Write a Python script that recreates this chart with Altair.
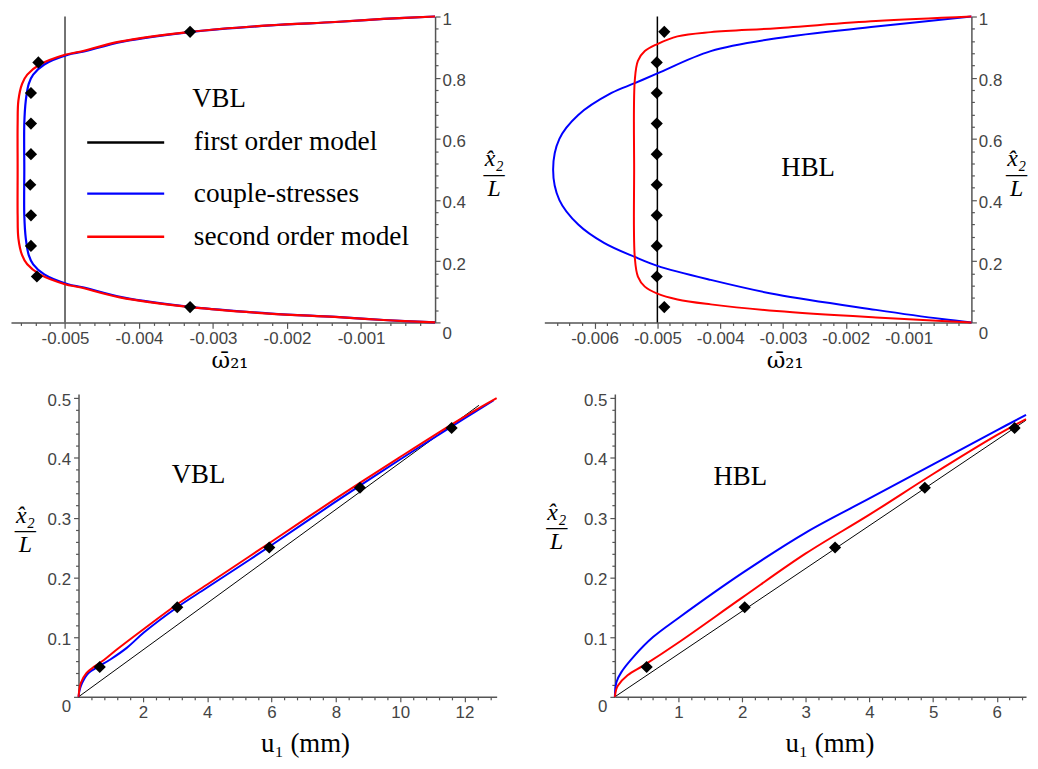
import altair as alt
import pandas as pd

# ---------------- data ----------------
# Panel A : VBL, micro-rotation omega_21 vs x2/L
a_y = [0, 0.008, 0.018, 0.029, 0.05, 0.082, 0.115, 0.125, 0.157, 0.19, 0.22, 0.275, 0.35,
       0.5, 0.65, 0.725, 0.78, 0.81, 0.843, 0.875, 0.885, 0.918, 0.95, 0.971, 0.982, 0.992, 1]
a_red = [0, -0.0007, -0.00136, -0.00225, -0.0033, -0.00426, -0.0048, -0.005, -0.00534, -0.00551,
         -0.00558, -0.00563, -0.00564, -0.00564, -0.00564, -0.00563, -0.00558, -0.00551, -0.00534,
         -0.005, -0.0048, -0.00426, -0.0033, -0.00225, -0.00136, -0.0007, 0]
a_blue = [0, -0.00069, -0.00134, -0.00222, -0.00328, -0.00422, -0.00476, -0.00496, -0.00528, -0.00543,
          -0.00549, -0.00553, -0.00555, -0.00555, -0.00555, -0.00553, -0.00549, -0.00543, -0.00528,
          -0.00496, -0.00476, -0.00422, -0.00328, -0.00222, -0.00134, -0.00069, 0]
a_first_x = [-0.005, -0.005]
a_first_y = [0, 1]
a_pts_y = [0.05, 0.15, 0.25, 0.35, 0.45, 0.55, 0.65, 0.75, 0.85, 0.95]
a_pts_x = [-0.00331, -0.00538, -0.00546, -0.00546, -0.00547, -0.00546, -0.00546, -0.00546, -0.00536, -0.00331]

# Panel B : HBL, micro-rotation
b_blue_y = [0, 0.011, 0.041, 0.091, 0.139, 0.185, 0.214, 0.26, 0.32, 0.4, 0.5,
            0.6, 0.678, 0.75, 0.782, 0.814, 0.887, 0.929, 0.967, 1]
b_blue_x = [0, -0.00047, -0.00152, -0.0031, -0.00415, -0.005, -0.00536, -0.00585, -0.00626, -0.00656, -0.00666,
            -0.00656, -0.00626, -0.00573, -0.00536, -0.005, -0.00415, -0.0031, -0.00152, 0]
b_red_y = [0, 0.005, 0.016, 0.037, 0.059, 0.075, 0.094, 0.117, 0.15, 0.214, 0.5,
           0.79, 0.855, 0.887, 0.91, 0.935, 0.949, 0.962, 0.985, 1]
b_red_x = [0, -0.00047, -0.00152, -0.0031, -0.00415, -0.00468, -0.005, -0.0052, -0.00531, -0.00536, -0.00537,
           -0.00536, -0.00531, -0.0052, -0.005, -0.00468, -0.00415, -0.0031, -0.00152, 0]
b_first_x = [-0.005, -0.005]
b_first_y = [0, 1]
b_pts_y = [0.05, 0.15, 0.25, 0.35, 0.45, 0.55, 0.65, 0.75, 0.85, 0.95]
b_pts_x = [-0.00489, -0.00501, -0.00501, -0.00501, -0.00501, -0.00501, -0.00501, -0.00501, -0.00501, -0.00489]

# Panel C : VBL, displacement u1 (mm) vs x2/L
c_first_u = [0, 12.45]
c_first_y = [0, 0.488]
c_red_u = [0, 0.02, 0.07, 0.25, 0.5, 0.8, 1.21, 2.04, 3.07, 4.0, 5.95, 7.95, 9.96, 12.0, 13.0]
c_red_y = [0, 0.01, 0.023, 0.04, 0.051, 0.062, 0.08, 0.114, 0.155, 0.188, 0.258, 0.33, 0.4, 0.469, 0.5]
c_blue_u = [0, 0.03, 0.11, 0.31, 0.6, 1.0, 1.5, 2.04, 3.07, 4.0, 5.95, 7.95, 9.96, 12.0, 12.9]
c_blue_y = [0, 0.01, 0.023, 0.04, 0.05, 0.063, 0.082, 0.108, 0.15, 0.183, 0.252, 0.325, 0.396, 0.466, 0.496]
c_pts_u = [0.66, 3.07, 5.93, 8.75, 11.6]
c_pts_y = [0.05, 0.15, 0.25, 0.35, 0.45]

# Panel D : HBL, displacement
d_first_u = [0, 6.46]
d_first_y = [0, 0.463]
d_red_u = [0, 0.02, 0.05, 0.2, 0.46, 1.0, 2.0, 3.0, 4.0, 5.0, 6.0, 6.46]
d_red_y = [0, 0.012, 0.019, 0.036, 0.053, 0.091, 0.166, 0.24, 0.305, 0.373, 0.438, 0.465]
d_blue_u = [0, 0.026, 0.1, 0.31, 0.6, 1.0, 2.0, 3.0, 4.0, 5.0, 6.0, 6.46]
d_blue_y = [0, 0.025, 0.041, 0.069, 0.1, 0.132, 0.207, 0.275, 0.332, 0.389, 0.446, 0.472]
d_pts_u = [0.5, 2.04, 3.46, 4.87, 6.28]
d_pts_y = [0.05, 0.15, 0.25, 0.35, 0.45]

legend_labels = ["first order model", "couple-stresses", "second order model"]
legend_colors = ["black", "#0000ff", "#ff0000"]

# ---------------- styling ----------------
BLUE = "#0000ff"
RED = "#ff0000"
SERIF = "Liberation Serif"
FRAC = ["x\u0302\u2082", "\u2014", "L"]
OMEGA = "\u03c9\u0304\u2082\u2081"

LBL = dict(labelFont="Liberation Sans", labelFontSize=17, labelColor="#444",
           domainColor="#555", domainWidth=1.5, tickColor="#555", tickWidth=1.2, grid=False)
# the "0" tick label sits just below the horizontal axis, as in the original
ZERO_BELOW = {"condition": {"test": "datum.value == 0", "value": "top"}, "value": "middle"}


def minor(lo, hi, step, majors):
    n = int(round((hi - lo) / step))
    vals = [round(lo + k * step, 6) for k in range(n + 1)]
    return [v for v in vals if all(abs(v - m) > step / 10 for m in majors)]


def frac_title(tx, ty):
    return dict(title=FRAC, titleAngle=0, titleFont=SERIF, titleFontStyle="italic",
                titleFontWeight="normal", titleFontSize=24, titleLineHeight=15,
                titleColor="black", titleX=tx, titleY=ty, titleAlign="center",
                titleBaseline="alphabetic")


def xy(xs, ys):
    return pd.DataFrame({"x": xs, "y": ys, "i": list(range(len(xs)))})


def line(xs, ys, color, width, xsc, ysc, xaxis=None, yaxis=None, interp="catmull-rom"):
    return alt.Chart(xy(xs, ys)).mark_line(color=color, strokeWidth=width, interpolate=interp).encode(
        x=alt.X("x:Q", scale=xsc, axis=xaxis),
        y=alt.Y("y:Q", scale=ysc, axis=yaxis),
        order="i:Q")


def diamonds(xs, ys, xsc, ysc):
    return alt.Chart(xy(xs, ys)).mark_point(shape="diamond", filled=True, color="black",
                                            opacity=1, size=150).encode(
        x=alt.X("x:Q", scale=xsc, axis=None), y=alt.Y("y:Q", scale=ysc, axis=None))


def label(text, x, y, xsc, ysc):
    df = pd.DataFrame({"x": [x], "y": [y], "t": [text]})
    return alt.Chart(df).mark_text(font=SERIF, fontSize=27, color="black").encode(
        x=alt.X("x:Q", scale=xsc, axis=None), y=alt.Y("y:Q", scale=ysc, axis=None), text="t:N")


# ---------------- top panels (omega) ----------------
y_top = alt.Scale(domain=[0, 1], nice=False, zero=False)
y_top_major = [0, 0.2, 0.4, 0.6, 0.8, 1.0]
y_top_minor = minor(0, 1, 0.04, y_top_major)


def top_axes(xmaj, xmin, title_x, frac_x):
    xa = alt.Axis(orient="bottom", values=xmaj, labelExpr="'-' + format(abs(datum.value), '.3f')",
                  tickSize=6, labelPadding=2, title=OMEGA, titleFont="DejaVu Serif", titleFontSize=23,
                  titleFontWeight="normal", titleColor="black", titleX=title_x, titleY=45,
                  titleAlign="center", titleBaseline="alphabetic", **LBL)
    xm = alt.Axis(orient="bottom", values=xmin, labels=False, tickSize=3, domain=False, title=None,
                  tickColor="#555", tickWidth=1.2, grid=False)
    ya = alt.Axis(orient="right", values=y_top_major, format="~g", tickSize=5, labelPadding=2,
                  labelOffset=3, labelBaseline=ZERO_BELOW,
                  **frac_title(frac_x, 150), **LBL)
    ym = alt.Axis(orient="right", values=y_top_minor, labels=False, tickSize=3, domain=False,
                  title=None, tickColor="#555", tickWidth=1.2, grid=False)
    return xa, xm, ya, ym


# Panel A
xA = alt.Scale(domain=[-0.00573, 0], nice=False, zero=False)
amaj = [-0.005, -0.004, -0.003, -0.002, -0.001]
xa, xm, ya, ym = top_axes(amaj, minor(-0.0056, -0.0002, 0.0002, amaj), 220, 59)
leg_df = pd.DataFrame({"lab": legend_labels, "col": legend_colors,
                       "y": [0.588, 0.421, 0.28], "x1": [-0.0047] * 3, "x2": [-0.00366] * 3,
                       "xt": [-0.00326] * 3})
leg_color = alt.Color("lab:N", scale=alt.Scale(domain=legend_labels, range=legend_colors), legend=None)
leg_lines = alt.Chart(leg_df).mark_rule(strokeWidth=2.5).encode(
    x=alt.X("x1:Q", scale=xA, axis=None), x2="x2:Q", y=alt.Y("y:Q", scale=y_top, axis=None), color=leg_color)
leg_text = alt.Chart(leg_df).mark_text(font=SERIF, fontSize=27.5, align="left", baseline="middle",
                                       color="black").encode(
    x=alt.X("xt:Q", scale=xA, axis=None), y=alt.Y("y:Q", scale=y_top, axis=None), text="lab:N")

panelA = alt.layer(
    line(a_first_x, a_first_y, "#444", 1.5, xA, y_top, xm, ym, interp="linear"),
    line(a_blue, a_y, BLUE, 2.2, xA, y_top, xa, ya),
    line(a_red, a_y, RED, 2.2, xA, y_top),
    diamonds(a_pts_x, a_pts_y, xA, y_top),
    label("VBL", -0.00292, 0.73, xA, y_top),
    leg_lines, leg_text,
).resolve_axis(x="independent", y="independent").properties(width=427, height=308)

# Panel B
xB = alt.Scale(domain=[-0.0068, 0], nice=False, zero=False)
bmaj = [-0.006, -0.005, -0.004, -0.003, -0.002, -0.001]
xa, xm, ya, ym = top_axes(bmaj, minor(-0.0066, -0.0002, 0.0002, bmaj), 242, 45)
panelB = alt.layer(
    line(b_first_x, b_first_y, "black", 1.5, xB, y_top, xm, ym, interp="linear"),
    line(b_blue_x, b_blue_y, BLUE, 2.0, xB, y_top, xa, ya),
    line(b_red_x, b_red_y, RED, 2.0, xB, y_top),
    diamonds(b_pts_x, b_pts_y, xB, y_top),
    label("HBL", -0.0026, 0.503, xB, y_top),
).resolve_axis(x="independent", y="independent").properties(width=430, height=308)

# ---------------- bottom panels (displacement) ----------------
y_bot = alt.Scale(domain=[0, 0.507], nice=False, zero=False)
y_bot_major = [0, 0.1, 0.2, 0.3, 0.4, 0.5]
y_bot_minor = minor(0, 0.5, 0.02, y_bot_major)
U_TITLE = "u\u2081  (mm)"


def bot_axes(xmaj, xmin, title_x, frac_x, frac_y):
    xa = alt.Axis(orient="bottom", values=xmaj, format="~g", tickSize=5, labelPadding=3,
                  title=U_TITLE, titleFont=SERIF, titleFontSize=27, titleFontWeight="normal",
                  titleColor="black", titleX=title_x, titleY=55, titleAlign="center",
                  titleBaseline="alphabetic", **LBL)
    xm = alt.Axis(orient="bottom", values=xmin, labels=False, tickSize=3, domain=False, title=None,
                  tickColor="#555", tickWidth=1.2, grid=False)
    ya = alt.Axis(orient="left", values=y_bot_major, format="~g", tickSize=5, labelPadding=3,
                  labelOffset=2, labelBaseline=ZERO_BELOW, **frac_title(frac_x, frac_y), **LBL)
    ym = alt.Axis(orient="left", values=y_bot_minor, labels=False, tickSize=3, domain=False,
                  title=None, tickColor="#555", tickWidth=1.2, grid=False)
    return xa, xm, ya, ym


# Panel C
xC = alt.Scale(domain=[0, 13], nice=False, zero=False)
cmaj = [2, 4, 6, 8, 10, 12]
xa, xm, ya, ym = bot_axes(cmaj, minor(0.4, 12.8, 0.4, cmaj), 228, -54, 129)
panelC = alt.layer(
    line(c_first_u, c_first_y, "black", 1.0, xC, y_bot, xm, ym, interp="linear"),
    line(c_blue_u, c_blue_y, BLUE, 2.0, xC, y_bot, xa, ya),
    line(c_red_u, c_red_y, RED, 2.0, xC, y_bot),
    diamonds(c_pts_u, c_pts_y, xC, y_bot),
    label("VBL", 3.73, 0.372, xC, y_bot),
).resolve_axis(x="independent", y="independent").properties(width=421, height=305)

# Panel D
xD = alt.Scale(domain=[0, 6.46], nice=False, zero=False)
dmaj = [1, 2, 3, 4, 5, 6]
xa, xm, ya, ym = bot_axes(dmaj, minor(0.2, 6.4, 0.2, dmaj), 216, -59, 126)
panelD = alt.layer(
    line(d_first_u, d_first_y, "black", 1.0, xD, y_bot, xm, ym, interp="linear"),
    line(d_blue_u, d_blue_y, BLUE, 2.0, xD, y_bot, xa, ya),
    line(d_red_u, d_red_y, RED, 2.0, xD, y_bot),
    diamonds(d_pts_u, d_pts_y, xD, y_bot),
    label("HBL", 1.97, 0.368, xD, y_bot),
).resolve_axis(x="independent", y="independent").properties(width=414, height=305)

# layout: plot areas placed by their own sizes ("flush"), a 1px empty cell indents the lower row
spacer = alt.Chart(pd.DataFrame({"x": [0]})).mark_point(opacity=0).encode(
    x=alt.X("x:Q", axis=None), y=alt.Y("x:Q", axis=None)).properties(width=1, height=1)

top = alt.hconcat(panelA, panelB, spacing=110, bounds="flush")
bottom_pair = alt.hconcat(panelC, panelD, spacing=119, bounds="flush")
bottom = alt.hconcat(spacer, bottom_pair, spacing=67, bounds="flush")
chart = alt.vconcat(top, bottom, spacing=19).properties(
    padding={"left": 0, "top": 0, "right": 0, "bottom": 0}, background="white"
).configure_view(stroke=None)

chart.save("out.html", embed_options={"renderer": "svg", "actions": False})
